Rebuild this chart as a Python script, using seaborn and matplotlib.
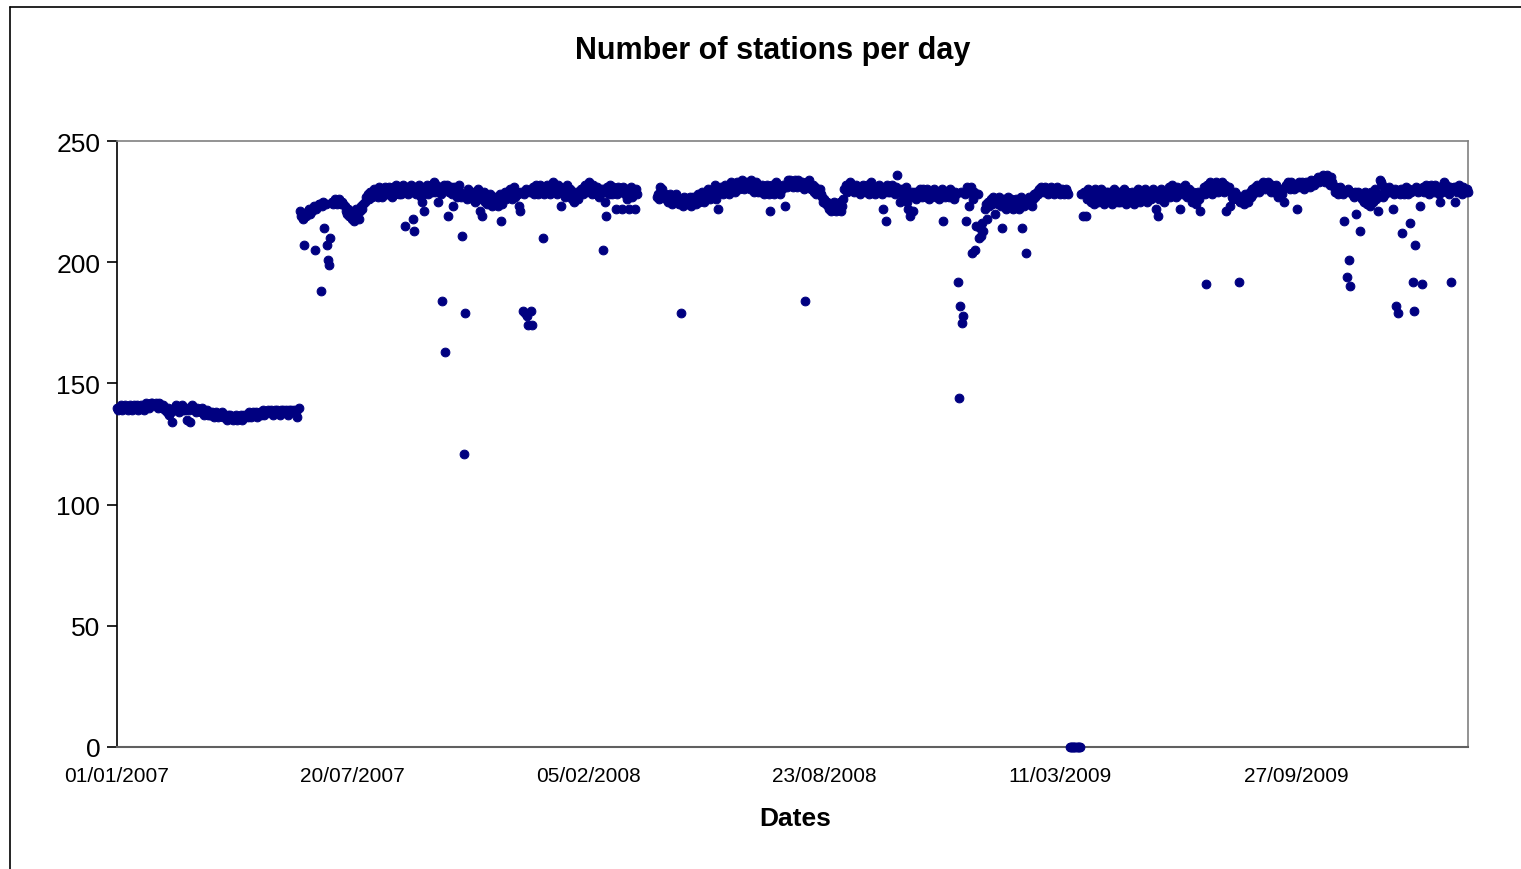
import numpy as np
import pandas as pd
import matplotlib
matplotlib.use("Agg")
import matplotlib.pyplot as plt
from matplotlib.lines import Line2D
import seaborn as sns

# Daily number of reporting stations, one list per calendar year (None = no data)
stations_2007 = [
    140, 139, 140, 141, 139, 140, 140, 141, 140, 139,
    140, 141, 140, 139, 141, 140, 140, 141, 139, 140,
    141, 140, 140, 139, 141, 142, 141, 140, 141, 142,
    142, 141, 141, 142, 141, 140, 142, 141, 140, 141,
    140, 139, 138, 140, 137, 139, 138, 134, 140, 139,
    141, 140, 139, 138, 140, 141, 139, 140, 139, 135,
    140, 139, 134, 140, 141, 140, 139, 138, 140, 139,
    139, 138, 140, 139, 137, 138, 139, 137, 138, 137,
    137, 138, 136, 137, 138, 137, 136, 137, 137, 138,
    136, 137, 136, 135, 137, 136, 137, 136, 135, 136,
    136, 137, 135, 136, 136, 137, 135, 136, 137, 136,
    137, 136, 138, 137, 136, 138, 137, 137, 138, 136,
    137, 138, 137, 138, 139, 137, 138, 138, 139, 138,
    138, 139, 137, 138, 139, 138, 139, 138, 137, 139,
    138, 139, 138, 139, 138, 137, 139, 138, 139, 138,
    139, 138, 138, 136, 140, 221, 219, 220, 218, 207,
    219, 220, 221, 222, 220, 221, 222, 223, 205, 222,
    223, 224, 224, 188, 223, 225, 214, 224, 207, 201,
    199, 210, 225, 224, 225, 226, 225, 224, 226, 225,
    224, 225, 224, 223, 221, 220, 222, 219, 221, 218,
    220, 217, 219, 222, 220, 218, 221, 223, 222, 224,
    225, 227, 226, 228, 226, 229, 227, 228, 230, 228,
    229, 227, 231, 228, 230, 227, 229, 231, 228, 230,
    228, 231, 229, 227, 231, 229, 228, 232, 230, 228,
    231, 228, 230, 232, 215, 229, 231, 228, 230, 232,
    229, 218, 213, 231, 228, 230, 232, 229, 227, 225,
    221, 231, 229, 232, 228, 230, 232, 229, 231, 233,
    229, 232, 225, 230, 231, 228, 184, 232, 163, 230,
    232, 219, 229, 231, 228, 223, 231, 229, 227, 230,
    232, 229, 227, 211, 121, 179, 228, 226, 230, 228,
    229, 227, 226, 229, 225, 228, 230, 226, 221, 227,
    219, 229, 225, 227, 224, 226, 228, 225, 223, 227,
    224, 227, 225, 223, 226, 228, 217, 224, 227, 229,
    226, 229, 227, 230, 228, 226, 229, 231, 227, 229,
    228, 223, 221, 229, 180, 228, 179, 230, 178, 174,
    229, 180, 174, 231, 228, 232, 230, 228, 231, 232,
    229, 210, 228, 231, 230,
]

stations_2008 = [
    232, 229, 228, 231, 230, 233, 231, 229, 228, 232,
    230, 231, 223, 229, 228, 227, 230, 232, 228, 230,
    229, 226, 228, 225, 229, 227, 226, 229, 228, 230,
    228, 231, 232, 229, 230, 233, 231, 229, 228, 232,
    230, 228, 231, 229, 227, 228, 230, 205, 229, 225,
    219, 231, 228, 232, 230, 228, 231, 229, 222, 228,
    231, 230, 229, 222, 231, 230, 228, 230, 226, 222,
    229, 231, 227, 229, 222, 230, 228,
    None, None, None, None, None, None, None, None,
    None, None, None, None, None, None, None, None,
    227, 228, 226, 231, 230, 228, 227,
    228, 226, 225, 227, 228, 225, 224, 227, 226, 228,
    227, 225, 224, 179, 226, 223, 227, 225, 226, 224,
    225, 227, 223, 225, 227, 226, 224, 226, 228, 225,
    227, 229, 226, 225, 228, 227, 230, 228, 226, 229,
    229, 227, 232, 226, 228, 222, 229, 231, 230, 228,
    230, 232, 231, 229, 228, 231, 233, 230, 231, 229,
    231, 233, 232, 230, 231, 234, 232, 230, 233, 231,
    233, 232, 230, 234, 231, 229, 231, 233, 230, 229,
    231, 229, 232, 230, 228, 230, 232, 229, 228, 221,
    230, 232, 228, 230, 233, 231, 229, 228, 231, 230,
    232, 231, 223, 231, 234, 232, 234, 233, 231, 233,
    234, 232, 231, 234, 233, 232, 233, 231, 230, 184,
    233, 231, 234, 232, 230, 232, 229, 231, 228, 230,
    229, 230, 228, 227, 225, 226, 224, 225, 223, 222,
    224, 221, 222, 225, 223, 221, 222, 224, 225, 221,
    223, 226, 230, 232, 229, 230, 231, 233, 230, 231,
    229, 231, 232, 230, 229, 228, 231, 230, 232, 231,
    229, 232, 230, 228, 231, 233, 231, 229, 228, 231,
    230, 232, 231, 229, 228, 222, 230, 217, 232, 229,
    231, 229, 232, 231, 230, 228, 231, 236, 230, 225,
    229, 230, 227, 229, 231, 225, 222, 228, 219, 229,
    221, 227, 229, 226, 229, 228, 230, 228, 227, 230,
    229, 227, 230, 228, 226, 227, 229, 228, 230, 229,
    227, 229, 226, 228, 229, 230, 217, 227, 229, 228,
    229, 227, 230, 229, 228, 226, 229, 228, 192, 144,
    182, 229, 175, 178, 228, 217, 231, 229, 223, 231,
    204, 226, 229, 205, 215, 228,
]

stations_2009 = [
    210, 214, 211, 216, 213, 222, 224, 218, 225, 223,
    226, 224, 227, 225, 220, 226, 224, 227, 225, 223,
    214, 226, 224, 222, 225, 227, 223, 226, 224, 222,
    225, 223, 226, 224, 222, 225, 227, 214, 223, 225,
    204, 226, 224, 227, 225, 223, 226, 228, 227, 229,
    228, 230, 229, 231, 230, 229, 231, 230, 229, 228,
    230, 231, 229, 230, 228, 229, 231, 230, 229, 228,
    229, 230, 228, 229, 230, 229, 228,
    0, 0, 0, 0, 0, 0, 0, 0, 0, 0,
    228, 219, 229,
    228, 219, 226, 230, 227, 225, 229, 227, 224, 230,
    227, 225, 229, 226, 230, 228, 224, 227, 229, 226,
    229, 226, 228, 224, 227, 230, 226, 228, 225, 229,
    225, 228, 226, 230, 227, 224, 229, 226, 228, 225,
    229, 226, 224, 228, 226, 230, 227, 225, 229, 227,
    226, 230, 228, 225, 227, 229, 226, 228, 230, 227,
    222, 229, 219, 226, 228, 230, 227, 225, 229, 228,
    228, 231, 227, 229, 232, 228, 230, 227, 231, 229,
    230, 222, 228, 231, 229, 232, 228, 227, 230, 228,
    227, 225, 229, 227, 224, 226, 229, 226, 221, 228,
    229, 231, 228, 191, 232, 229, 233, 230, 228, 232,
    230, 233, 231, 229, 232, 230, 233, 231, 229, 232,
    221, 230, 231, 223, 229, 227, 226, 229, 228, 226,
    226, 192, 225, 227, 226, 224, 228, 226, 225, 228,
    229, 227, 230, 228, 231, 230, 232, 230, 229, 231,
    231, 233, 232, 230, 231, 233, 232, 230, 229, 232,
    231, 229, 232, 228, 227, 230, 229, 228, 230, 225,
    231, 232, 233, 231, 230, 233, 232, 230, 231, 232,
    222, 231, 233, 231, 233, 232, 230, 232, 233, 232,
    233, 231, 234, 233, 232, 234, 233, 234, 235, 233,
    235, 234, 236, 235, 233, 236, 235, 234, 232, 235,
    233, 231, 229, 231, 230, 228, 231, 230, 229, 228,
    217, 229, 194, 230, 201, 190, 229, 228, 227, 229,
    220, 228, 229, 213, 227, 226, 228, 225, 229, 224,
    226, 228, 223, 229, 225, 227, 230, 226, 228, 221,
    234, 233, 232, 227, 229, 228, 230, 229, 231, 230,
    229, 222, 228, 230, 182, 229, 179, 228, 230, 212,
    229, 228, 231, 229, 228,
]

stations_2010 = [
    230, 216, 229, 192, 180, 207, 231, 230, 229, 223,
    230, 191, 231, 229, 232, 231, 230, 228, 231, 232,
    231, 229, 232, 231, 230, 228, 225, 231, 229, 232,
    233, 232, 230, 229, 228, 231, 192, 230, 231, 225,
    231, 229, 232, 231, 230, 228, 231, 230, 229, 230, 229,
]

tick_dates = ["2007-01-01", "2007-07-20", "2008-02-05",
              "2008-08-23", "2009-03-11", "2009-09-27"]
y_ticks = [0, 50, 100, 150, 200, 250]

values = stations_2007 + stations_2008 + stations_2009 + stations_2010
df = pd.DataFrame({
    "date": pd.date_range("2007-01-01", periods=len(values), freq="D"),
    "stations": pd.to_numeric(pd.Series(values, dtype="object"), errors="coerce"),
}).dropna()

sns.set_theme(style="white")
plt.rcParams["font.family"] = ["Liberation Sans", "DejaVu Sans"]
plt.rcParams["text.color"] = "black"
plt.rcParams["xtick.color"] = "black"
plt.rcParams["ytick.color"] = "black"

fig = plt.figure(figsize=(15.21, 8.70), dpi=100)
ax = fig.add_axes([117 / 1521, 1 - 748 / 870, (1468 - 117) / 1521, (748 - 142) / 870])

sns.scatterplot(data=df, x="date", y="stations", ax=ax, color="#000080",
                s=40, edgecolor="#000080", linewidth=0.7, clip_on=False,
                legend=False, zorder=3)

start = pd.Timestamp("2007-01-01")
ax.set_xlim(start, start + pd.Timedelta(days=1146))
ax.set_ylim(0, 250)
ax.set_yticks(y_ticks)
ax.set_yticklabels([str(v) for v in y_ticks], fontsize=19)
ticks = pd.to_datetime(tick_dates)
ax.set_xticks(ticks)
ax.set_xticklabels([t.strftime("%d/%m/%Y") for t in ticks], fontsize=15)
ax.tick_params(axis="y", direction="out", length=7, width=1.2, color="#000000",
               pad=5, left=True)
ax.tick_params(axis="x", length=0, pad=14)
ax.set_xlabel("")
ax.set_ylabel("")

for side in ["top", "right"]:
    ax.spines[side].set_color("#808080")
    ax.spines[side].set_linewidth(1.2)
ax.spines["left"].set_color("#000000")
ax.spines["left"].set_linewidth(1.2)
ax.spines["bottom"].set_color("#606060")
ax.spines["bottom"].set_linewidth(1.5)

fig.text(773 / 1521, 1 - 51 / 870, "Number of stations per day", ha="center",
         va="center", fontsize=22, fontweight="bold")
fig.text(795 / 1521, 1 - 819 / 870, "Dates", ha="center", va="center",
         fontsize=19, fontweight="bold")

# Outer chart frame (top and left edges)
fx, fy = 9.5 / 1521, 1 - 7.5 / 870
fig.add_artist(Line2D([fx, 1.0], [fy, fy], transform=fig.transFigure,
                      color="#000000", linewidth=1.2))
fig.add_artist(Line2D([fx, fx], [0.0, fy], transform=fig.transFigure,
                      color="#000000", linewidth=1.2))

fig.savefig("out.png", dpi=100, facecolor="white")
